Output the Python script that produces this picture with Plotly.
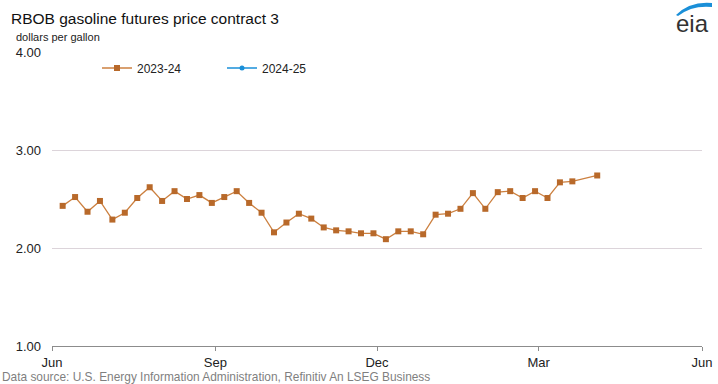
import plotly.graph_objects as go
import pandas as pd

# ---- data ----
series_2324_name = "2023-24"
series_2425_name = "2024-25"

dates_2324 = list(pd.date_range("2023-06-07", periods=42, freq="7D").strftime("%Y-%m-%d")) + ["2024-04-03"]
prices_2324 = [2.43, 2.52, 2.37, 2.48, 2.29, 2.36, 2.51, 2.62, 2.48, 2.58,
               2.50, 2.54, 2.46, 2.52, 2.58, 2.46, 2.36, 2.16, 2.26, 2.35,
               2.30, 2.21, 2.18, 2.17, 2.15, 2.15, 2.09, 2.17, 2.17, 2.14,
               2.34, 2.35, 2.40, 2.56, 2.40, 2.57, 2.58, 2.51, 2.58, 2.51,
               2.67, 2.68, 2.74]

dates_2425 = []   # no data yet for 2024-25
prices_2425 = []

y_ticks = [1.0, 2.0, 3.0, 4.0]
y_tick_labels = ["1.00", "2.00", "3.00", "4.00"]
x_tick_vals = ["2023-06-01", "2023-09-01", "2023-12-01", "2024-03-01", "2024-06-01"]
x_tick_labels = ["Jun", "Sep", "Dec", "Mar", "Jun"]

FONT = "Liberation Sans, Arial, sans-serif"

fig = go.Figure()
fig.add_trace(go.Scatter(
    x=dates_2324, y=prices_2324, name=series_2324_name, mode="lines+markers",
    line=dict(color="#cc8040", width=1.3),
    marker=dict(symbol="square", size=6, color="#b8692a"),
))
fig.add_trace(go.Scatter(
    x=dates_2425 if dates_2425 else [None], y=prices_2425 if prices_2425 else [None],
    name=series_2425_name, mode="lines+markers",
    line=dict(color="#1a8fd8", width=1.3),
    marker=dict(symbol="circle", size=5, color="#1a8fd8"),
))

L, R, T, B = 52, 16, 52, 38
W, H = 718 - L - R, 384 - T - B
def px(xp):
    return (xp - L) / W
def py(yp):
    return (384 - B - yp) / H

fig.update_layout(
    width=718, height=384,
    margin=dict(l=L, r=R, t=T, b=B, autoexpand=False),
    paper_bgcolor="white", plot_bgcolor="white",
    font=dict(family=FONT, size=13, color="#222222"),
    showlegend=True,
    legend=dict(orientation="h", x=px(97), y=py(68), xanchor="left", yanchor="middle",
                font=dict(size=12, color="#222222"), bgcolor="rgba(0,0,0,0)",
                entrywidth=80, itemwidth=30, tracegroupgap=0),
    xaxis=dict(
        type="date", range=["2023-06-01", "2024-06-01"],
        tickvals=x_tick_vals, ticktext=x_tick_labels,
        showgrid=False, zeroline=False,
        showline=True, linecolor="#8c8c8c", linewidth=1,
        ticks="outside", ticklen=4, tickcolor="#8c8c8c",
        tickfont=dict(size=13, color="#222222"),
    ),
    yaxis=dict(
        range=[1.0, 4.0], tickvals=y_ticks, ticktext=y_tick_labels,
        showgrid=True, gridcolor="#dcd4da", gridwidth=1,
        zeroline=False, showline=False, ticks="",
        tickfont=dict(size=13, color="#222222"), ticklabelstandoff=10,
    ),
)

fig.add_annotation(text="RBOB gasoline futures price contract 3", x=px(9), y=py(18),
                   xref="paper", yref="paper", xanchor="left", yanchor="middle",
                   showarrow=False, font=dict(size=15.5, color="#111111"))
fig.add_annotation(text="dollars per gallon", x=px(14), y=py(37),
                   xref="paper", yref="paper", xanchor="left", yanchor="middle",
                   showarrow=False, font=dict(size=11, color="#222222"))
fig.add_annotation(text="Data source: U.S. Energy Information Administration, Refinitiv An LSEG Business",
                   x=px(0), y=py(377), xref="paper", yref="paper", xanchor="left", yanchor="middle",
                   showarrow=False, font=dict(size=11.9, color="#7f7f7f"))
fig.add_annotation(text="eia", x=px(692), y=py(23), xref="paper", yref="paper",
                   xanchor="center", yanchor="middle", showarrow=False,
                   font=dict(size=24, color="#333333", family=FONT))

pts = [(676, 15), (690, 1), (712, 3), (712, 7), (692, 5), (678, 16)]
p = [(px(a), py(b)) for a, b in pts]
path = (f"M {p[0][0]},{p[0][1]} Q {p[1][0]},{p[1][1]} {p[2][0]},{p[2][1]} "
        f"L {p[3][0]},{p[3][1]} Q {p[4][0]},{p[4][1]} {p[5][0]},{p[5][1]} Z")
fig.add_shape(type="path", path=path, xref="paper", yref="paper",
              fillcolor="#1a8fd8", line=dict(width=0))

fig.write_html("out.html", config={"displayModeBar": False},
               post_script="document.body.style.margin='0';")
